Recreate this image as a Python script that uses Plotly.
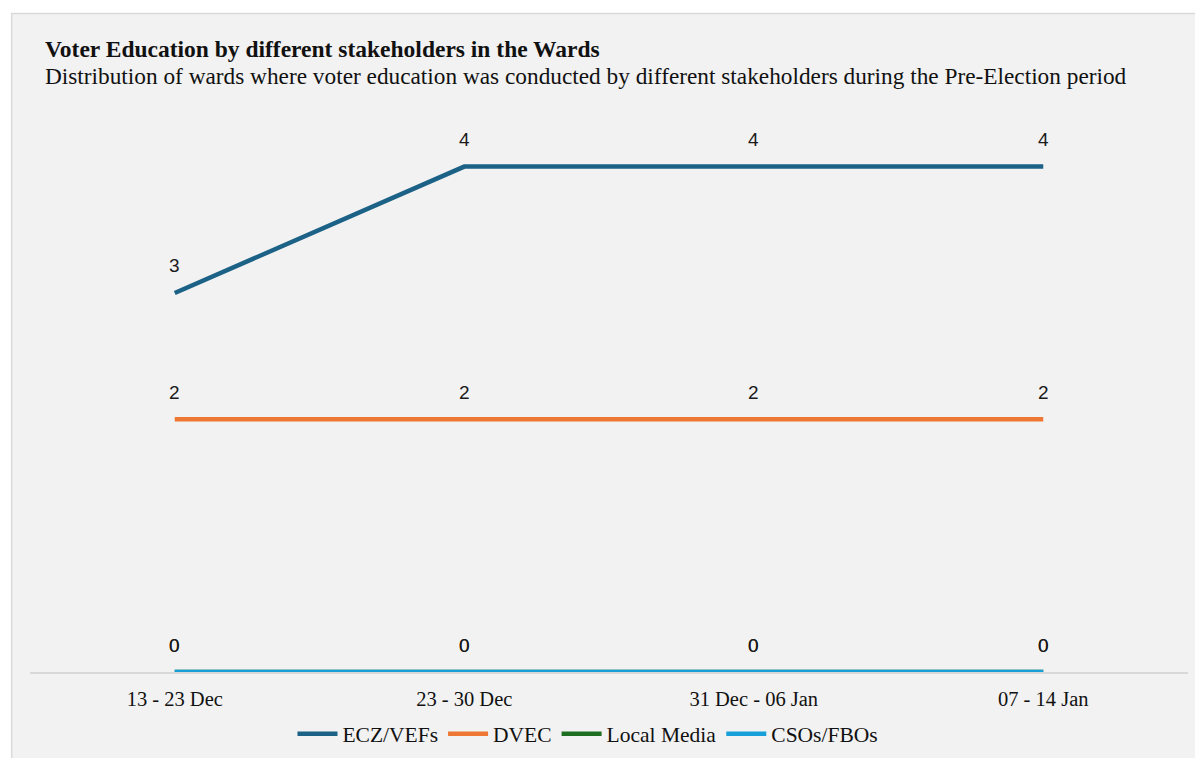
import plotly.graph_objects as go

categories = ["13 - 23 Dec", "23 - 30 Dec", "31 Dec - 06 Jan", "07 - 14 Jan"]
series_names = ["ECZ/VEFs", "DVEC", "Local Media", "CSOs/FBOs"]
ecz_vefs = [3, 4, 4, 4]
dvec = [2, 2, 2, 2]
local_media = [0, 0, 0, 0]
csos_fbos = [0, 0, 0, 0]
colors = ["#1b6286", "#ed7733", "#1e6e22", "#169fd9"]

title_text = "Voter Education by different stakeholders in the Wards"
subtitle_text = "Distribution of wards where voter education was conducted by different stakeholders during the Pre-Election period"

W, H = 1203, 758
OFF = 8  # page body margin offset
# desired page pixel positions (empirically calibrated)
x_first, x_last = 175, 1043
y_zero, y_four = 678.5, 167
unit = (y_zero - y_four) / 4.0
y_top_val = 4.25
step = (x_last - x_first) / 3.0
plot_left = x_first - step / 2 - OFF
plot_right = x_last + step / 2 - OFF
plot_bottom = y_zero - OFF
plot_top = y_zero - unit * y_top_val - OFF
ml, mr, mt, mb = plot_left, W - plot_right, plot_top, H - plot_bottom
pw, ph = W - ml - mr, H - mt - mb

def px_x(px):
    return (px - OFF - ml) / pw

def px_y(py):
    return (H - mb - (py - OFF)) / ph

fig = go.Figure()
all_values = [ecz_vefs, dvec, local_media, csos_fbos]
for name, vals, col in zip(series_names, all_values, colors):
    fig.add_trace(go.Scatter(
        x=categories, y=vals, name=name, mode="lines",
        line=dict(color=col, width=4.5), cliponaxis=False,
    ))
    for c, v in zip(categories, vals):
        fig.add_annotation(x=c, y=v, xref="x", yref="y", text=str(v),
                           showarrow=False, yshift=27,
                           font=dict(family="Liberation Sans, Arial", size=19, color="#1a1a1a"))

# background panel
fig.add_shape(type="rect", xref="paper", yref="paper",
              x0=px_x(12), x1=px_x(W + 20), y0=px_y(12), y1=px_y(H + 20),
              fillcolor="#f2f2f2", line=dict(color="#d9d9d9", width=1.5), layer="below")

fig.add_annotation(xref="paper", yref="paper", x=px_x(43), y=px_y(48),
                   xanchor="left", yanchor="middle", showarrow=False,
                   text="<b>" + title_text + "</b>",
                   font=dict(family="Liberation Serif, Times New Roman", size=23.5, color="#111111"))
fig.add_annotation(xref="paper", yref="paper", x=px_x(43), y=px_y(75),
                   xanchor="left", yanchor="middle", showarrow=False,
                   text=subtitle_text,
                   font=dict(family="Liberation Serif, Times New Roman", size=23.3, color="#111111"))

fig.update_layout(
    width=W, height=H,
    margin=dict(l=ml, r=mr, t=mt, b=mb),
    paper_bgcolor="white", plot_bgcolor="rgba(0,0,0,0)",
    showlegend=True,
    legend=dict(orientation="h", x=px_x(588), xanchor="center", y=px_y(741), yanchor="middle",
                font=dict(family="Liberation Serif, Times New Roman", size=21.5, color="#111111"),
                bgcolor="rgba(0,0,0,0)", itemwidth=40),
    xaxis=dict(type="category", range=[-0.5, 3.5], showgrid=False, zeroline=False,
               showline=True, linecolor="#d9d9d9", linewidth=1.5, ticks="",
               tickfont=dict(family="Liberation Serif, Times New Roman", size=20.5, color="#111111"),
               ticklabelstandoff=8),
    yaxis=dict(range=[0, y_top_val], visible=False, showgrid=False, zeroline=False),
)

fig.write_html("out.html")
